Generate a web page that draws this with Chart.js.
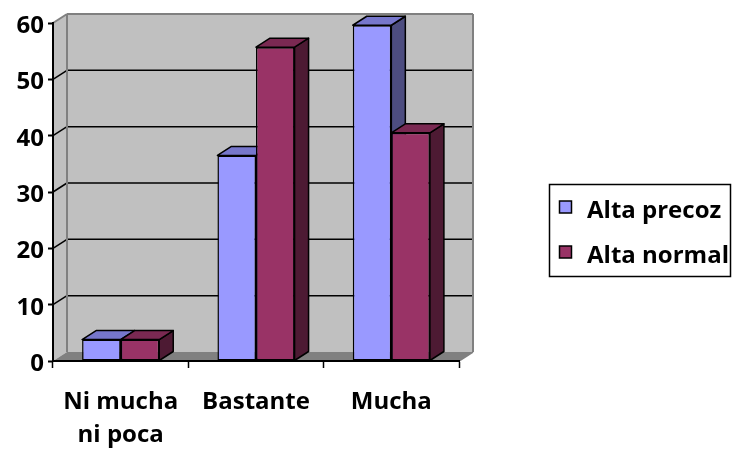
<!DOCTYPE html>
<html>
<head>
<meta charset="utf-8">
<script src="https://cdn.jsdelivr.net/npm/chart.js@4/dist/chart.umd.min.js"></script>
<style>
  html, body { margin: 0; padding: 0; background: #fff; }
  #wrap { width: 733px; height: 455px; }
</style>
</head>
<body>
<div id="wrap"><canvas id="c" width="733" height="455"></canvas></div>
<script>
// Categories (x axis) and the two series, in percent
const categories = [['Ni mucha', 'ni poca'], 'Bastante', 'Mucha'];
const seriesNames = ['Alta precoz', 'Alta normal'];
const altaPrecoz = [3.8, 36.5, 59.6];
const altaNormal = [3.8, 55.7, 40.5];
const yMin = 0, yMax = 60, yStep = 10;

// Face colours: front, top, side
const palette = [
  { front: '#9999FF', top: '#7777CC', side: '#4D4D80' },
  { front: '#993366', top: '#7A2952', side: '#4D1A33' }
];

const FONT = { family: '"Open Sans", "Liberation Sans", sans-serif', size: 24, weight: 'bold' };
const DX = 14, DY = 9; // depth offset of the 3D box

function poly(ctx, pts, fill, stroke, lw) {
  ctx.beginPath();
  ctx.moveTo(pts[0][0], pts[0][1]);
  for (let i = 1; i < pts.length; i++) ctx.lineTo(pts[i][0], pts[i][1]);
  ctx.closePath();
  if (fill) { ctx.fillStyle = fill; ctx.fill(); }
  if (stroke) { ctx.strokeStyle = stroke; ctx.lineWidth = lw || 1; ctx.lineJoin = 'round'; ctx.stroke(); }
}
function line(ctx, x1, y1, x2, y2, color, lw) {
  ctx.beginPath();
  ctx.moveTo(x1, y1); ctx.lineTo(x2, y2);
  ctx.strokeStyle = color; ctx.lineWidth = lw; ctx.stroke();
}

// Walls, floor and gridlines of the 3D box
const wallsPlugin = {
  id: 'walls',
  beforeDraw(chart) {
    const ctx = chart.ctx;
    const { left, right, top, bottom } = chart.chartArea;
    const ys = chart.scales.y;
    ctx.save();
    // back wall
    poly(ctx, [[left + DX, top - DY], [right + DX, top - DY], [right + DX, bottom - DY], [left + DX, bottom - DY]], '#C0C0C0');
    // left side wall
    poly(ctx, [[left, top], [left + DX, top - DY], [left + DX, bottom - DY], [left, bottom]], '#C0C0C0');
    // floor
    poly(ctx, [[left, bottom], [left + DX, bottom - DY], [right + DX, bottom - DY], [right, bottom]], '#808080');
    // gridlines on back and side walls
    for (let v = yMin + yStep; v < yMax; v += yStep) {
      const y = ys.getPixelForValue(v);
      line(ctx, left + DX, y - DY, right + DX, y - DY, '#000', 1.5);
      line(ctx, left, y, left + DX, y - DY, '#000', 1.5);
    }
    // wall edges
    line(ctx, left, top, left + DX, top - DY, '#808080', 2);
    line(ctx, left + DX, top - DY, right + DX, top - DY, '#808080', 2);
    line(ctx, right + DX, top - DY, right + DX, bottom - DY, '#808080', 2);
    line(ctx, left + DX, top - DY, left + DX, bottom - DY, '#808080', 2);
    line(ctx, right, bottom, right + DX, bottom - DY, '#808080', 1.5);
    ctx.restore();
  },
  // top and side faces of each column, drawn before the front faces
  beforeDatasetsDraw(chart) {
    const ctx = chart.ctx;
    ctx.save();
    chart.data.datasets.forEach((ds, i) => {
      const meta = chart.getDatasetMeta(i);
      const c = palette[i];
      meta.data.forEach(bar => {
        const { x, y, base, width } = bar.getProps(['x', 'y', 'base', 'width'], true);
        const l = x - width / 2, r = x + width / 2;
        poly(ctx, [[r, y], [r + DX, y - DY], [r + DX, base - DY], [r, base]], c.side, '#000', 1.5);
        poly(ctx, [[l, y], [l + DX, y - DY], [r + DX, y - DY], [r, y]], c.top, '#000', 1.5);
      });
    });
    ctx.restore();
  },
  // boxed legend on the right
  afterDraw(chart) {
    const ctx = chart.ctx;
    ctx.save();
    ctx.strokeStyle = '#000';
    ctx.lineWidth = 1.5;
    ctx.strokeRect(549.5, 184.5, 181, 92);
    ctx.font = `${FONT.weight} ${FONT.size}px ${FONT.family}`;
    ctx.textBaseline = 'alphabetic';
    ctx.textAlign = 'left';
    chart.data.datasets.forEach((ds, i) => {
      const yb = 218 + i * 45;
      ctx.fillStyle = ds.backgroundColor;
      ctx.fillRect(559.5, yb - 17, 12, 12);
      ctx.lineWidth = 1.5;
      ctx.strokeRect(559.5, yb - 17, 12, 12);
      ctx.fillStyle = '#000';
      ctx.fillText(ds.label, 587, yb);
    });
    ctx.restore();
  }
};

new Chart(document.getElementById('c'), {
  type: 'bar',
  data: {
    labels: categories,
    datasets: [
      { label: seriesNames[0], data: altaPrecoz, backgroundColor: palette[0].front },
      { label: seriesNames[1], data: altaNormal, backgroundColor: palette[1].front }
    ]
  },
  options: {
    responsive: false,
    animation: false,
    devicePixelRatio: 1,
    layout: { padding: { top: 23, right: 274, left: 0, bottom: 0 } },
    datasets: {
      bar: {
        borderColor: '#000',
        borderWidth: 1.5,
        borderSkipped: false,
        categoryPercentage: 0.57,
        barPercentage: 1.0
      }
    },
    plugins: {
      legend: { display: false },
      tooltip: { enabled: false }
    },
    scales: {
      x: {
        afterFit(scale) { scale.height = 94; },
        grid: { offset: true, drawOnChartArea: false, drawTicks: true, tickLength: 7, tickColor: '#000', tickWidth: 1.5 },
        border: { display: true, color: '#000', width: 2 },
        ticks: { color: '#000', font: Object.assign({}, FONT, { lineHeight: 1.4 }), padding: 17, maxRotation: 0, autoSkip: false }
      },
      y: {
        min: yMin, max: yMax,
        afterFit(scale) { scale.width = 53; },
        grid: { drawOnChartArea: false, drawTicks: true, tickLength: 5, tickColor: '#000', tickWidth: 2 },
        border: { display: true, color: '#000', width: 2 },
        ticks: { stepSize: yStep, color: '#000', font: FONT, padding: 4, labelOffset: 3 }
      }
    }
  },
  plugins: [wallsPlugin]
});
</script>
</body>
</html>
